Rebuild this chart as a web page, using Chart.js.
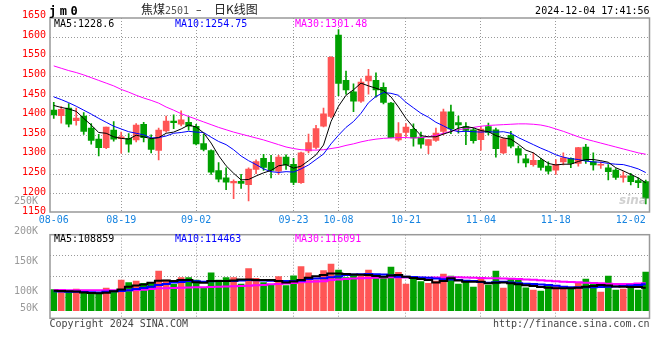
<!DOCTYPE html>
<html><head><meta charset="utf-8">
<script src="https://cdn.jsdelivr.net/npm/chart.js@4.4.1/dist/chart.umd.min.js"></script>
<style>
html,body{margin:0;padding:0;background:#fff;}
body{width:660px;height:360px;position:relative;overflow:hidden;}
canvas{position:absolute;left:0;}
#cp{top:0;width:660px;height:226px;}
#cv{top:190px;width:660px;height:145px;}
.t{position:absolute;white-space:pre;font-family:'DejaVu Sans Mono',monospace;font-size:10px;line-height:12px;}
</style></head><body>
<canvas id="cp" width="660" height="226"></canvas>
<canvas id="cv" width="660" height="145"></canvas>
<div class="t" style="left:49px;top:3.7px;font-size:12px;line-height:14px;font-weight:bold;letter-spacing:3.5px;color:#000">jm0</div>
<div class="t" style="left:141px;top:2px;font-family:'Noto Sans CJK SC';font-size:12px;line-height:14px;color:#222">焦煤</div>
<div class="t" style="left:165px;top:5px;color:#555">2501</div>
<div class="t" style="left:196px;top:4px;font-family:'DejaVu Sans';font-size:11px;color:#222">–</div>
<div class="t" style="left:214px;top:2px;font-family:'Noto Sans CJK SC';font-size:12px;line-height:14px;color:#222">日K线图</div>
<div class="t" style="right:10.5px;top:5.2px;color:#000">2024-12-04 17:41:56</div>
<div class="t" id="l5" style="left:54px;top:18.2px;color:#000"></div>
<div class="t" id="l10" style="left:175px;top:18.2px;color:#0000ff"></div>
<div class="t" id="l30" style="left:295px;top:18.2px;color:#ff00ff"></div>
<div class="t" id="v5" style="left:54px;top:232.5px;color:#000"></div>
<div class="t" id="v10" style="left:175px;top:232.5px;color:#0000ff"></div>
<div class="t" id="v30" style="left:295px;top:232.5px;color:#ff00ff"></div>
<div class="t" style="left:619px;top:192.5px;font-family:'DejaVu Sans';font-size:12px;line-height:14px;font-style:italic;font-weight:bold;color:rgba(150,150,150,0.45)">sina</div>
<div class="t" style="left:49.5px;top:317.7px;color:#444">Copyright 2024 SINA.COM</div>
<div class="t" style="right:10.5px;top:318.2px;color:#444">http://finance.sina.com.cn</div>
<script>
const dates = ['08-06','08-07','08-08','08-09','08-12','08-13','08-14','08-15','08-16',
'08-19','08-20','08-21','08-22','08-23','08-26','08-27','08-28','08-29','08-30',
'09-02','09-03','09-04','09-05','09-06','09-09','09-10','09-11','09-12','09-13',
'09-18','09-19','09-20','09-23','09-24','09-25','09-26','09-27','09-30',
'10-08','10-09','10-10','10-11','10-14','10-15','10-16','10-17','10-18',
'10-21','10-22','10-23','10-24','10-25','10-28','10-29','10-30','10-31','11-01',
'11-04','11-05','11-06','11-07','11-08','11-11','11-12','11-13','11-14','11-15',
'11-18','11-19','11-20','11-21','11-22','11-25','11-26','11-27','11-28','11-29',
'12-02','12-03','12-04'];

const opens = [1414,1400,1419,1387,1399,1368,1340,1318,1363,1341,
1342,1338,1378,1340,1311,1361,1386,1378,1383,1373,
1329,1311,1260,1241,1228,1232,1224,1263,1291,1281,
1258,1294,1276,1228.6,1310,1319,1373,1398,1606,1490,
1461,1437,1488.5,1490,1472,1432,1338,1357,1365,1345,
1324,1337,1360,1409.5,1382.5,1372,1364,1338.6,1372,1364,
1305,1350,1316,1290,1275,1286,1271,1261,1282,1291,
1278,1320,1282,1273.4,1267,1261,1242.4,1246.6,1234,1231.4];

const highs = [1434,1423,1431,1419,1408,1380,1352,1371,1385,1358,
1354,1380,1383,1351,1368,1399,1402,1412,1397,1378,
1352,1313,1280,1267,1236,1250,1267,1287,1301,1299,
1299,1300,1291,1307,1353,1375,1419,1551,1620,1514,
1481,1494,1518,1509.5,1484,1434,1382,1380,1379,1358,
1339,1368,1417,1427,1399,1382.5,1368,1372,1381,1368,
1343,1360,1322,1301,1305,1291,1282,1288,1305,1292.5,
1319,1327,1305,1282,1275,1265,1257,1252.5,1241.5,1235.6];

const lows = [1393,1381,1371,1376,1352,1327,1297,1316,1335,1304,
1307,1333,1333,1305,1287,1358,1367,1374,1363,1325,
1310,1250,1231,1211,1188,1214,1182,1252,1260,1241,
1250,1263,1224,1227,1305,1315,1371,1394,1451,1455,
1410,1434,1455,1447,1430,1343,1335,1346,1322,1317,
1303,1334,1351,1354,1355.5,1326,1330,1312,1351,1294,
1303,1317.5,1279.5,1269,1271,1261,1251,1250,1274,1267,
1271,1278,1261,1265,1236,1237,1230,1223,1216,1174.6];

const closes = [1402,1416,1378,1394,1360,1337,1318,1371,1340,1346,
1327,1376,1344,1314,1363,1386,1382,1389,1373,1328,
1314,1256,1238,1230,1232,1227,1263.6,1283,1268,1260,
1294,1274,1229.5,1305,1331,1367,1404.5,1549,1482,1466,
1437,1486,1501,1466,1434,1343.6,1354.5,1371,1343,1327,
1338.6,1355.5,1410,1366,1376.6,1362,1336,1365.6,1357,1316,
1341,1322,1299,1279,1286,1268,1258.5,1276,1292,1278,
1318.6,1285,1274,1275.4,1257,1242.4,1246.6,1231.4,1228.8,1189];

const ma5 = [1426,1421,1417,1411,1393,1376,1357,1355,1346,1342,
1340,1350,1346,1341,1344,1355,1358,1366,1376,1371,
1356,1330,1298,1272,1253,1236,1237,1246,1254,1260,
1272,1275,1266,1271,1285,1300,1325,1385,1424,1452,
1466,1483,1476,1470,1464,1448,1422,1393,1370,1349,
1346,1346,1353,1359,1368,1372,1369,1362,1359,1349,
1343,1340,1327,1312,1305,1291,1278,1274,1276,1276,
1283,1288,1288,1285,1281,1267,1259,1250,1241,1228.6];

const ma10 = [1448,1441,1433,1424,1414,1404,1393,1383,1373,1366,
1359,1355,1351,1343,1344,1348,1355,1357,1360,1358,
1357,1345,1334,1326,1313,1297,1285,1275,1264,1257,
1255,1257,1256,1264,1274,1288,1302,1328,1350,1370,
1385,1406,1433,1449,1459,1457,1452,1434,1420,1406,
1396,1383,1374,1364,1359,1360,1359,1358,1359,1358,
1359,1355,1344,1335,1326,1317,1309,1300,1294,1290,
1288,1284,1282,1281,1278,1276,1275,1270,1264,1254.75];

const ma30 = [1527,1521,1515,1510,1504,1497,1490,1483,1476,1467,
1460,1452,1445,1439,1432,1422,1414,1405,1398,1391,
1384,1377,1370,1364,1358,1353,1348,1343,1338,1332,
1326,1320,1316,1313,1312,1312,1313,1316,1319,1324,
1328,1333,1337,1340,1342,1343,1344,1344,1343,1344,
1346,1350,1355,1360,1364,1367,1370,1373,1375,1376,
1377,1378,1379,1379,1378,1376,1372,1366,1360,1353,
1346,1340,1335,1330,1325,1320,1315,1310,1305,1301.48];

const volumes = [105500,101600,101600,106600,101600,98800,100500,108300,102700,121600,
117200,120000,116100,116100,136600,121600,114400,125500,125500,121600,
107700,133800,121600,125500,125500,115000,140500,124400,117200,114400,
127200,112200,128800,143900,133800,121600,137200,148300,138300,125500,
130000,128300,138300,124400,127200,143300,134400,115000,124400,118900,
116100,120000,131600,128300,115000,120500,110000,124400,113300,136600,
108300,124400,124400,108800,105000,103300,113300,110500,107700,107700,
117700,123300,114400,101600,128300,105000,106600,114400,105000,135000];

const volMa5 = [103800,103500,103000,102500,101000,100000,99500,100500,103000,106000,
110500,112500,114000,117000,120500,121000,120000,121500,121600,118000,
117200,120000,120000,120000,121000,122700,122500,121600,121600,121600,
120000,117700,119000,121600,125500,128000,130000,132700,132500,131600,
131000,130500,130000,128500,127200,129000,130000,127200,125000,123500,
121600,117700,120000,124400,121000,118900,118900,118900,116100,117000,
117700,116100,114500,113000,111600,110000,108800,108000,107700,108000,
108800,110500,111500,113300,112500,111000,110500,110000,109800,108859];

const volMa10 = [102700,102500,102200,102000,101700,101400,101000,102000,103000,103300,
104500,106500,108500,110500,113300,115000,117700,118500,120000,119500,
118900,119500,120000,120000,120000,121000,121600,121200,120800,120500,
120200,120000,120000,120500,123300,124000,124700,126100,127500,130000,
130800,131300,131600,131300,131000,129000,127200,127000,126500,126000,
125500,124000,123000,122700,121500,120500,120000,118500,117200,118000,
118900,117500,116100,115500,115000,114000,113300,112000,110500,109400,
109400,109400,109600,110200,110500,111000,111500,112500,113500,114463];

const volMa30 = [104900,104800,104700,104600,104500,104500,104400,104400,104400,104400,
104500,104800,105500,106500,107700,108000,108300,108600,109000,109400,
109700,110000,110300,110800,111300,111800,112200,112800,113500,114400,
115000,115800,116800,118000,118900,119300,119600,121500,122500,123500,
124000,124600,125000,125500,126000,126100,126000,125800,125600,125500,
125500,125700,126000,126100,126100,125800,125500,125000,124700,124400,
124000,123600,123200,122700,122000,121200,120500,119700,118900,118300,
117800,117200,116600,116100,115500,114900,114800,115200,115700,116091];

const priceTicks = [1650,1600,1550,1500,1450,1400,1350,1300,1250,1200,1150];
const volTicks = [250000,200000,150000,100000,50000];
const volTickLabels = ['250K','200K','150K','100K','50K'];
const labeledDates = ['08-06','08-19','09-02','09-23','10-08','10-21','11-04','11-18','12-02'];
const gridDates = ['08-19','09-02','09-23','10-08','10-21','11-04','11-18'];

const VOL_BASE = 70500;
const UP = '#ff5555', DOWN = '#00a000';
const GRID = '#999';
const dirColor = opens.map((o, i) => closes[i] >= o ? UP : DOWN);

document.getElementById('l5').textContent = 'MA5:' + ma5[ma5.length - 1];
document.getElementById('l10').textContent = 'MA10:' + ma10[ma10.length - 1];
document.getElementById('l30').textContent = 'MA30:' + ma30[ma30.length - 1];
document.getElementById('v5').textContent = 'MA5:' + volMa5[volMa5.length - 1];
document.getElementById('v10').textContent = 'MA10:' + volMa10[volMa10.length - 1];
document.getElementById('v30').textContent = 'MA30:' + volMa30[volMa30.length - 1];

Chart.defaults.font.family = "'DejaVu Sans Mono', monospace";
Chart.defaults.font.size = 10;
Chart.defaults.animation = false;

const frame = {
  id: 'frame',
  afterDraw(chart) {
    const { ctx, chartArea: a } = chart;
    ctx.save();
    ctx.strokeStyle = '#999';
    ctx.lineWidth = 1.5;
    ctx.strokeRect(a.left, a.top, a.right - a.left, a.bottom - a.top);
    ctx.restore();
  }
};

const xGridColor = (c) => (c.tick && gridDates.includes(dates[c.index])) ? GRID : 'rgba(0,0,0,0)';
const lineDs = (data, color, w, stepped) => ({
  type: 'line', data, borderColor: color, borderWidth: w, pointRadius: 0,
  fill: false, tension: 0, stepped: stepped || false, order: 0
});

new Chart(document.getElementById('cp'), {
  type: 'bar',
  data: {
    labels: dates,
    datasets: [
      lineDs(ma5, '#000000', 1),
      lineDs(ma10, '#0000ff', 1),
      lineDs(ma30, '#ff00ff', 1),
      { type: 'bar', data: opens.map((o, i) => [o, closes[i]]), backgroundColor: dirColor,
        barThickness: 6, grouped: false, minBarLength: 1, borderWidth: 0, order: 1 },
      { type: 'bar', data: lows.map((l, i) => [l, highs[i]]), backgroundColor: dirColor,
        barThickness: 1, grouped: false, borderWidth: 0, order: 2 }
    ]
  },
  options: {
    responsive: false, animation: false,
    layout: { padding: { top: 18, right: 10.5, left: 0, bottom: 0 } },
    plugins: { legend: { display: false }, tooltip: { enabled: false } },
    scales: {
      x: {
        type: 'category', offset: true,
        grid: { offset: false, drawTicks: false, color: xGridColor, lineWidth: 1 },
        border: { display: false, dash: [1, 2] },
        ticks: { autoSkip: false, maxRotation: 0, minRotation: 0, padding: 2, color: '#1784e0',
          callback: (v, i) => labeledDates.includes(dates[i]) ? dates[i] : '' },
        afterFit(s) { s.height = 14; s.paddingLeft = 0; s.paddingRight = 0; }
      },
      y: {
        type: 'linear', position: 'left', min: 1154, max: 1649.3,
        afterBuildTicks(s) { s.ticks = priceTicks.map(v => ({ value: v })); },
        afterFit(s) { s.width = 50; s.paddingTop = 0; s.paddingBottom = 0; },
        grid: { drawTicks: false, color: (c) => (c.tick && c.tick.value > 1150 && c.tick.value < 1650) ? GRID : 'rgba(0,0,0,0)' },
        border: { display: false, dash: [1, 2] },
        ticks: { autoSkip: false, color: '#ff0000', padding: 4, labelOffset: -2, callback: (v) => String(v) }
      }
    }
  },
  plugins: [frame]
});

new Chart(document.getElementById('cv'), {
  type: 'bar',
  data: {
    labels: dates,
    datasets: [
      lineDs(volMa5, '#000000', 2, 'middle'),
      lineDs(volMa10, '#0000ff', 2, 'middle'),
      lineDs(volMa30, '#ff00ff', 2, 'middle'),
      { type: 'bar', data: volumes, base: VOL_BASE, backgroundColor: dirColor,
        barThickness: 6, borderWidth: 0, order: 1 }
    ]
  },
  options: {
    responsive: false, animation: false,
    layout: { padding: { top: 44.7, right: 10.5, left: 0, bottom: 16.7 } },
    plugins: { legend: { display: false }, tooltip: { enabled: false } },
    scales: {
      x: {
        type: 'category', offset: true,
        grid: { offset: false, drawTicks: false, color: xGridColor, lineWidth: 1 },
        border: { display: false, dash: [1, 2] },
        ticks: { display: false },
        afterFit(s) { s.height = 0; s.paddingLeft = 0; s.paddingRight = 0; }
      },
      y: {
        type: 'linear', position: 'left', min: 57800, max: 197200,
        afterBuildTicks(s) { s.ticks = volTicks.map(v => ({ value: Math.max(v, VOL_BASE) })); },
        afterFit(s) { s.width = 50; s.paddingTop = 0; s.paddingBottom = 0; },
        grid: { display: false },
        border: { display: false },
        ticks: { autoSkip: false, color: '#999', padding: 4, labelOffset: -2, callback: (v, i) => volTickLabels[i] }
      },
      yq: {
        type: 'linear', position: 'right', min: 0, max: 4,
        afterBuildTicks(s) { s.ticks = [{ value: 1 }, { value: 2 }, { value: 3 }]; },
        afterFit(s) { s.width = 0; s.paddingTop = 0; s.paddingBottom = 0; },
        grid: { drawTicks: false, color: GRID },
        border: { display: false, dash: [1, 2] },
        ticks: { display: false }
      }
    }
  },
  plugins: [frame]
});
</script>
</body></html>
